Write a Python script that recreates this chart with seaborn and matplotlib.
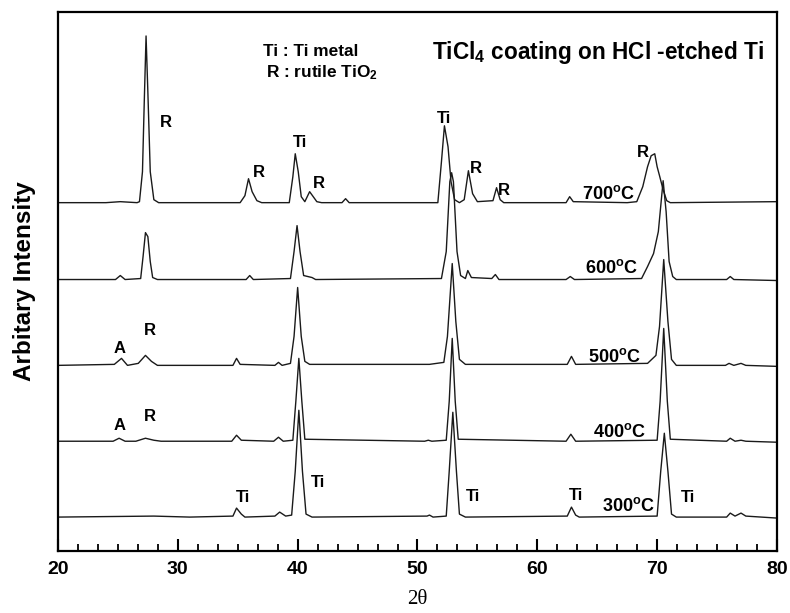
import numpy as np
import pandas as pd
import matplotlib
matplotlib.use("Agg")
import matplotlib.pyplot as plt
import seaborn as sns
from matplotlib.ticker import MultipleLocator

# ---------------- data ----------------
temps = ["300", "400", "500", "600", "700"]

tt_700 = [20, 24.0, 25.2, 26.6, 26.8, 27.05, 27.2, 27.35, 27.5, 27.7, 28.0, 28.4,
          35.2, 35.6, 35.9, 36.2, 36.6, 37.0,
          39.3, 39.6, 39.8, 40.05, 40.3, 40.6, 41.0, 41.3, 41.6, 42.0,
          43.7, 44.0, 44.3,
          51.7, 52.0, 52.25, 52.55, 52.8, 53.1, 53.5, 53.9, 54.25, 54.6, 55.0,
          56.3, 56.6, 56.9, 57.2, 62.4, 62.7, 63.0,
          67.5, 68.3, 68.8, 69.2, 69.5, 69.8, 70.0, 70.2, 70.5, 70.8, 71.1, 80]
in_700 = [349, 349, 350, 349, 350, 380, 450, 516, 460, 380, 352, 349,
          349, 356, 373, 360, 351, 349,
          349, 375, 398, 380, 355, 350, 360, 355, 350, 349,
          349, 353, 349,
          349, 390, 426, 405, 370, 352, 349, 352, 381, 358, 350,
          351, 364, 352, 349, 349, 355, 350,
          349, 350, 365, 385, 396, 398, 385, 376, 362, 351, 349, 350]

tt_600 = [20, 24.8, 25.2, 25.6, 26.9, 27.1, 27.3, 27.5, 27.7, 27.9, 28.3,
          35.7, 36.0, 36.3,
          39.4, 39.7, 39.95, 40.2, 40.5, 41.2, 41.5,
          52.0, 52.4, 52.7, 52.85, 53.0, 53.3, 53.6, 54.0, 54.2, 54.5,
          56.2, 56.5, 56.8, 62.4, 62.75, 63.1,
          68.7, 69.2, 69.7, 70.1, 70.5, 70.75, 71.0, 71.3, 71.6,
          75.8, 76.1, 76.4, 80]
in_600 = [272, 272, 276, 272, 273, 295, 319, 315, 290, 274, 272,
          272, 276, 272,
          273, 300, 326, 300, 276, 274, 272,
          273, 300, 370, 379, 370, 300, 276, 273, 281, 274,
          273, 277, 272, 272, 275, 272,
          273, 285, 298, 320, 371, 340, 290, 275, 272,
          272, 275, 272, 271]

tt_500 = [20, 24.7, 25.3, 25.8, 26.7, 27.3, 27.8, 28.3,
          34.6, 34.9, 35.2, 38.1, 38.4, 38.7,
          39.4, 39.7, 40.0, 40.3, 40.6, 41.0,
          51.0, 52.2, 52.5, 52.9, 53.2, 53.5, 54.0,
          62.5, 62.85, 63.2,
          69.2, 69.9, 70.2, 70.55, 70.9, 71.2, 71.6,
          75.7, 76.0, 76.4, 77.0, 77.4, 80]
in_500 = [186, 187, 193, 186, 188, 196, 190, 186,
          186, 193, 187, 186, 189, 186,
          188, 215, 264, 215, 190, 187,
          187, 189, 215, 288, 230, 192, 187,
          187, 195, 187,
          188, 196, 225, 292, 230, 192, 186,
          186, 188, 186, 188, 186, 185]

tt_400 = [20, 24.6, 25.1, 25.6, 26.5, 27.3, 28.0, 28.6,
          34.5, 34.9, 35.3, 38.0, 38.4, 38.8,
          39.6, 39.85, 40.1, 40.35, 40.6,
          50.6, 50.9, 51.2, 52.4, 52.65, 52.9, 53.15, 53.4,
          62.4, 62.8, 63.2,
          70.0, 70.25, 70.55, 70.85, 71.1,
          75.8, 76.1, 76.5, 77.0, 77.4, 80]
in_400 = [110, 110, 113, 110, 110, 113, 111, 110,
          110, 116, 111, 110, 114, 110,
          111, 150, 193, 150, 112,
          110, 111, 110, 111, 150, 213, 150, 112,
          110, 117, 110,
          111, 150, 223, 150, 112,
          110, 113, 110, 111, 110, 109]

tt_300 = [20, 28.0, 31.0, 34.6, 34.9, 35.3, 35.6,
          38.1, 38.5, 39.0, 39.5, 39.8, 40.1, 40.4, 40.7, 41.2,
          50.8, 51.0, 51.3, 52.4, 52.65, 52.95, 53.25, 53.5, 54.0,
          62.5, 62.85, 63.2, 63.5,
          70.0, 70.3, 70.6, 70.9, 71.2, 71.6,
          75.8, 76.1, 76.5, 77.0, 77.4, 80]
in_300 = [34, 35, 34, 35, 43, 37, 34,
          35, 39, 35, 36, 80, 141, 80, 37, 34,
          35, 36, 34, 35, 80, 139, 80, 37, 34,
          35, 44, 36, 34,
          35, 80, 118, 80, 37, 34,
          34, 38, 35, 38, 35, 33]

x_ticks = [20, 30, 40, 50, 60, 70, 80]

# ---------------- build long table ----------------
frames = []
for t, xs, ys in [("300", tt_300, in_300), ("400", tt_400, in_400),
                  ("500", tt_500, in_500), ("600", tt_600, in_600),
                  ("700", tt_700, in_700)]:
    frames.append(pd.DataFrame({"two_theta": xs, "intensity": ys, "temp": t}))
df = pd.concat(frames, ignore_index=True)

# ---------------- style ----------------
sns.set_theme(style="ticks")
plt.rcParams["font.family"] = ["Liberation Sans", "DejaVu Sans"]
plt.rcParams["font.weight"] = "bold"
plt.rcParams["text.color"] = "black"
plt.rcParams["axes.labelcolor"] = "black"
plt.rcParams["xtick.color"] = "black"
plt.rcParams["mathtext.fontset"] = "custom"
plt.rcParams["mathtext.rm"] = "Liberation Sans:bold"
plt.rcParams["mathtext.bf"] = "Liberation Sans:bold"
plt.rcParams["mathtext.it"] = "Liberation Sans:bold"

fig = plt.figure(figsize=(7.9, 6.13), dpi=100)
ax = fig.add_axes([0.0734, 0.1011, 0.9101, 0.8793])

sns.lineplot(data=df, x="two_theta", y="intensity", hue="temp",
             palette={t: "#1a1a1a" for t in temps}, estimator=None,
             legend=False, linewidth=1.0, ax=ax)

ax.set_xlim(20, 80)
ax.set_ylim(0, 540)
ax.xaxis.set_major_locator(MultipleLocator(10))
ax.xaxis.set_minor_locator(MultipleLocator(10 / 6))
ax.set_xticks(x_ticks)
ax.set_xticklabels([str(v) for v in x_ticks], fontsize=14, fontweight="bold",
                   color="black")
ax.set_yticks([])
ax.tick_params(axis="x", which="major", direction="in", length=9, width=1.5,
               pad=7, colors="black")
ax.tick_params(axis="x", which="minor", direction="in", length=5, width=1.3,
               colors="black")
for s in ax.spines.values():
    s.set_linewidth(1.6)
    s.set_color("black")
    s.set_visible(True)

ax.set_xlabel(r"2θ", fontsize=15, fontweight="normal", color="black",
              family=["Liberation Serif", "DejaVu Serif"], labelpad=9)
ax.set_ylabel("Arbitary Intensity", fontsize=17.5, fontweight="bold",
              color="black", labelpad=16)

# ---------------- annotations ----------------
pk = dict(fontsize=12, fontweight="bold", ha="center", va="center",
          color="black")
for x, y, s in [(29.0, 429, "R"), (36.8, 379, "R"), (40.2, 409, "Ti"),
                (41.8, 368, "R"), (52.2, 433, "Ti"), (54.9, 383, "R"),
                (57.2, 361, "R"), (68.8, 399, "R"),
                (25.1, 203, "A"), (27.7, 221, "R"),
                (25.1, 126, "A"), (27.7, 135, "R"),
                (35.4, 54, "Ti"), (41.7, 69, "Ti"), (54.6, 55, "Ti"),
                (63.2, 56, "Ti"), (72.6, 54, "Ti")]:
    ax.text(x, y, s, **pk)

tl = dict(fontsize=13, fontweight="bold", ha="left", va="baseline",
          color="black")
for x, y, t in [(63.74, 353, "700"), (63.99, 279, "600"), (64.24, 189, "500"),
                (64.66, 114, "400"), (65.4, 40, "300")]:
    ax.text(x, y, t + r"$^{\mathregular{o}}$C", **tl)

ax.text(51.2, 493, r"TiCl$_{\mathregular{4}}$ coating on HCl -etched Ti",
        fontsize=16.3, fontweight="bold", ha="left", va="baseline",
        color="black")
ax.text(37.1, 496, "Ti : Ti metal", fontsize=12.4, fontweight="bold",
        ha="left", va="baseline", color="black")
ax.text(37.35, 475, r"R : rutile TiO$_{\mathregular{2}}$", fontsize=12.4,
        fontweight="bold", ha="left", va="baseline", color="black")

fig.savefig("out.png", dpi=100)
